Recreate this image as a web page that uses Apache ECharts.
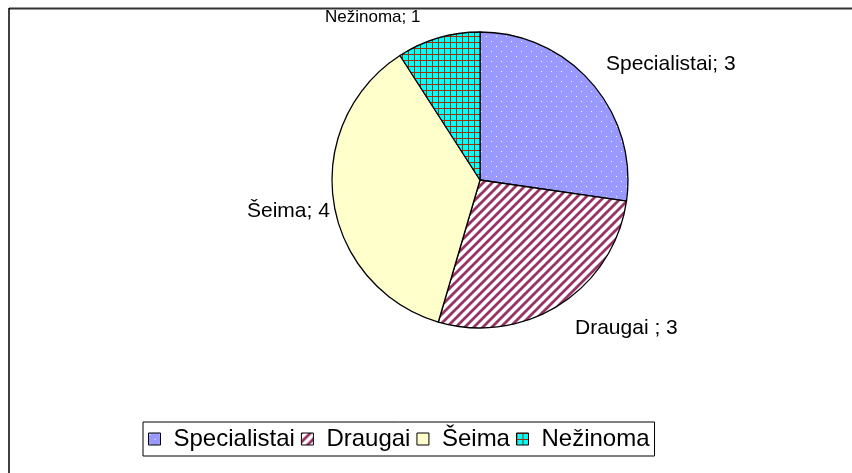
<!DOCTYPE html>
<html>
<head>
<meta charset="utf-8">
<script src="https://cdn.jsdelivr.net/npm/echarts@6/dist/echarts.min.js"></script>
<style>
  html, body { margin: 0; padding: 0; background: #fff; }
  #main { width: 852px; height: 473px; }
</style>
</head>
<body>
<div id="main"></div>
<script>
const categories = ['Specialistai', 'Draugai', 'Šeima', 'Nežinoma'];
const values = [3, 3, 4, 1];

// fill patterns like the old office chart
function makePattern(kind) {
  const c = document.createElement('canvas');
  const ctx = c.getContext('2d');
  if (kind === 'dots') {
    c.width = 10; c.height = 10;
    ctx.fillStyle = '#9999ff';
    ctx.fillRect(0, 0, 10, 10);
    ctx.fillStyle = '#ffffff';
    ctx.fillRect(1, 1, 1, 1);
    ctx.fillRect(6, 6, 1, 1);
  } else if (kind === 'stripes') {
    c.width = 9; c.height = 9;
    ctx.fillStyle = '#ffffff';
    ctx.fillRect(0, 0, 9, 9);
    ctx.strokeStyle = '#993366';
    ctx.lineWidth = 2.8;
    ctx.beginPath();
    ctx.moveTo(-2, 11); ctx.lineTo(11, -2);
    ctx.moveTo(-2, 2); ctx.lineTo(2, -2);
    ctx.moveTo(7, 11); ctx.lineTo(11, 7);
    ctx.stroke();
  } else if (kind === 'plain') {
    c.width = 4; c.height = 4;
    ctx.fillStyle = '#ffffcc';
    ctx.fillRect(0, 0, 4, 4);
  } else {
    c.width = 6; c.height = 6;
    ctx.fillStyle = '#00ffff';
    ctx.fillRect(0, 0, 6, 6);
    ctx.fillStyle = '#993300';
    ctx.fillRect(0, 0, 6, 1);
    ctx.fillRect(0, 0, 1, 6);
  }
  return c;
}
const patterns = ['dots', 'stripes', 'plain', 'grid'];

const chart = echarts.init(document.getElementById('main'));
const option = {
  backgroundColor: '#fff',
  animation: false,
  graphic: [
    { type: 'line', shape: { x1: 9, y1: 8.5, x2: 852, y2: 8.5 }, style: { stroke: '#333', lineWidth: 2 } },
    { type: 'line', shape: { x1: 9, y1: 8, x2: 9, y2: 473 }, style: { stroke: '#000', lineWidth: 1.5 } }
  ],
  legend: {
    left: 143,
    top: 422,
    orient: 'horizontal',
    borderColor: '#000',
    borderWidth: 1,
    padding: [5, 5, 5, 5],
    itemGap: 6,
    itemWidth: 12,
    itemHeight: 12,
    icon: 'rect',
    itemStyle: { borderColor: '#000', borderWidth: 1 },
    textStyle: { fontFamily: 'Liberation Sans', fontSize: 24, color: '#000', padding: [0, 0, 0, 8] },
    data: categories
  },
  series: [{
    type: 'pie',
    center: [480, 180],
    radius: 148,
    startAngle: 90,
    clockwise: true,
    avoidLabelOverlap: false,
    itemStyle: { borderColor: '#000', borderWidth: 1.3 },
    label: {
      show: true,
      position: 'outside',
      fontFamily: 'Liberation Sans',
      fontSize: 21,
      color: '#000',
      formatter: function (p) {
        return p.name === 'Draugai' ? p.name + ' ; ' + p.value : p.name + '; ' + p.value;
      }
    },
    labelLine: { show: false },
    labelLayout: function (p) {
      const pos = [[606, 64], [575, 328], [247, 211], [325, 17]];
      return { x: pos[p.dataIndex][0], y: pos[p.dataIndex][1], align: 'left', verticalAlign: 'middle' };
    },
    data: categories.map(function (name, i) {
      const item = {
        name: name,
        value: values[i],
        itemStyle: { color: { image: makePattern(patterns[i]), repeat: 'repeat' } }
      };
      if (name === 'Nežinoma') item.label = { fontSize: 17 };
      return item;
    })
  }]
};
chart.setOption(option);
</script>
</body>
</html>
